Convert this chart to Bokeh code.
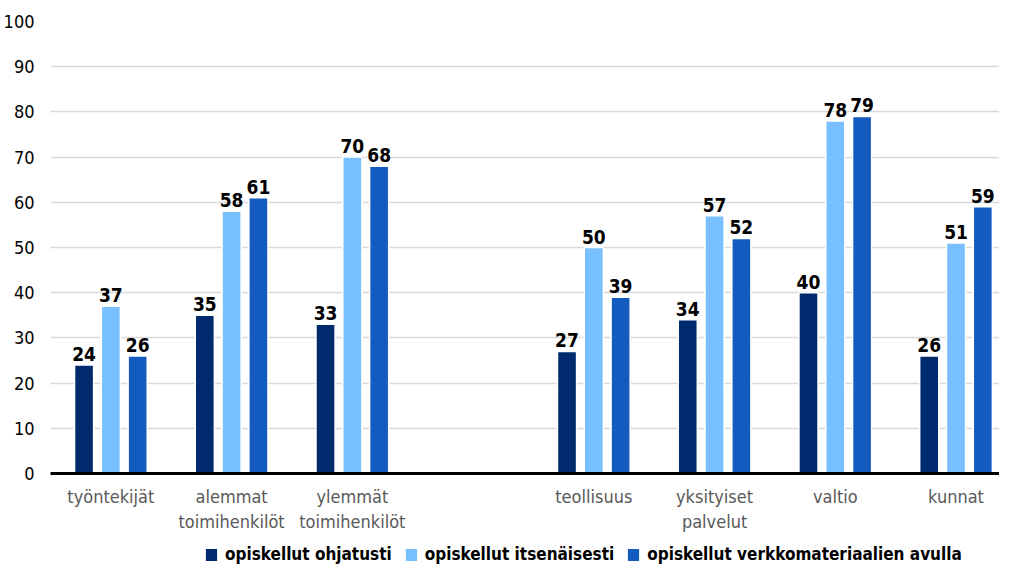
from bokeh.plotting import figure
from bokeh.layouts import column
from bokeh.models import Range1d, FixedTicker, Legend, LegendItem, ColumnDataSource
from bokeh.core.properties import value
from bokeh.embed import file_html
from bokeh.resources import INLINE

categories = ["työntekijät", "alemmat\ntoimihenkilöt", "ylemmät\ntoimihenkilöt",
              "teollisuus", "yksityiset\npalvelut", "valtio", "kunnat"]
series_names = ["opiskellut ohjatusti", "opiskellut itsenäisesti",
                "opiskellut verkkomateriaalien avulla"]
ohjatusti = [24, 35, 33, 27, 34, 40, 26]
itsenaisesti = [37, 58, 70, 50, 57, 78, 51]
verkko = [26, 61, 68, 39, 52, 79, 59]
y_ticks = [0, 10, 20, 30, 40, 50, 60, 70, 80, 90, 100]

colors = ["#002a6e", "#78bfff", "#135bbf"]
FONT = "Liberation Sans Narrow, DejaVu Sans Condensed, sans-serif"

# layout: one empty slot between the third and fourth group
slots = [i if i < 3 else i + 1 for i in range(len(categories))]
offsets = [-0.222, 0.0, 0.222]
bar_w = 0.158

p = figure(width=999, height=534, output_backend="svg", toolbar_location=None,
           x_range=Range1d(-0.5, 7.36), y_range=Range1d(0, 100),
           min_border_left=42, min_border_right=0, min_border_top=21,
           min_border_bottom=58)
p.outline_line_color = None
p.background_fill_color = "white"
p.border_fill_color = "white"

# legend strip below the chart
lg = figure(width=999, height=30, output_backend="svg", toolbar_location=None,
            x_range=Range1d(0, 1), y_range=Range1d(0, 1),
            min_border_left=0, min_border_right=0, min_border_top=0, min_border_bottom=0)
lg.outline_line_color = None
lg.axis.visible = False
lg.grid.visible = False

items = []
for vals, name, col, off in zip([ohjatusti, itsenaisesti, verkko], series_names, colors, offsets):
    src = ColumnDataSource(dict(x=[s + off for s in slots], top=vals,
                                lab=[str(v) for v in vals]))
    p.vbar(x="x", top="top", width=bar_w, bottom=0, source=src,
           fill_color=col, line_color="white", line_width=1.5)
    p.text(x="x", y="top", text="lab", source=src, text_align="center",
           text_baseline="alphabetic", y_offset=-11, text_font=value(FONT),
           text_font_size="19px", text_font_style="bold", text_color="#000000")
    # off-range swatch renderer used only for the legend
    lr = lg.vbar(x=[-10], top=[0], width=0.1, fill_color=col, line_color=None)
    items.append(LegendItem(label=name, renderers=[lr]))

# axes
p.xaxis.ticker = FixedTicker(ticks=slots)
p.xaxis.major_label_overrides = {s: c for s, c in zip(slots, categories)}
p.xaxis.axis_line_color = "#000000"
p.xaxis.axis_line_width = 3
p.xaxis.major_tick_line_color = None
p.xaxis.minor_tick_line_color = None
p.xaxis.major_label_text_font = FONT
p.xaxis.major_label_text_font_size = "18px"
p.xaxis.major_label_text_color = "#595959"
p.xaxis.major_label_standoff = 6

p.yaxis.ticker = FixedTicker(ticks=y_ticks)
p.yaxis.axis_line_color = None
p.yaxis.major_tick_line_color = None
p.yaxis.minor_tick_line_color = None
p.yaxis.major_label_text_font = FONT
p.yaxis.major_label_text_font_size = "18px"
p.yaxis.major_label_text_color = "#000000"
p.yaxis.major_label_standoff = 10

p.xgrid.grid_line_color = None
p.ygrid.grid_line_color = "#d9d9d9"
p.ygrid.grid_line_width = 1.5

legend = Legend(items=items, orientation="horizontal", location=(154, 0),
                label_text_font=FONT, label_text_font_size="17px",
                label_text_font_style="bold", label_text_color="#000000",
                glyph_width=14, glyph_height=15, label_standoff=7, spacing=12,
                label_height=19, border_line_color=None, background_fill_alpha=0,
                padding=0, margin=0)
lg.add_layout(legend)

layout = column(p, lg, spacing=0)
open("out.html", "w").write(file_html(layout, INLINE))
